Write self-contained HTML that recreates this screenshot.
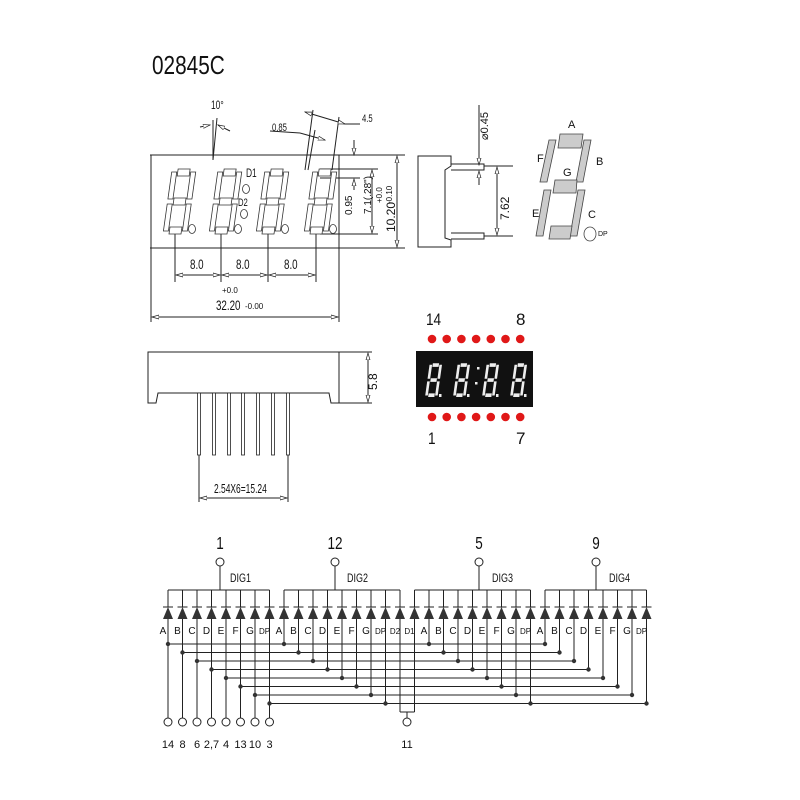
<!DOCTYPE html>
<html><head><meta charset="utf-8"><style>
html,body{margin:0;padding:0;background:#fff;width:800px;height:800px;overflow:hidden}
svg{display:block}
text{font-family:"Liberation Sans",sans-serif;fill:#111}
</style></head><body>
<svg id="s" width="800" height="800" viewBox="0 0 800 800" xmlns="http://www.w3.org/2000/svg">
<defs>
<marker id="ar" markerWidth="8" markerHeight="6" refX="7" refY="3" orient="auto-start-reverse" markerUnits="userSpaceOnUse"><path d="M0,1 L7,3 L0,5 Z" fill="#fff" stroke="#222" stroke-width="0.7"/></marker>
</defs>
<text x="0" y="0" font-size="26" transform="translate(152,74) scale(0.8,1)">02845C</text>

<g stroke="#222" stroke-width="1" fill="none">
<!-- front view -->
<line x1="150" y1="155" x2="405" y2="155"/>
<line x1="150" y1="248" x2="405" y2="248"/>
<line x1="151" y1="155" x2="151" y2="322"/>
<line x1="339" y1="155" x2="339" y2="322"/>
<line x1="175" y1="234" x2="175" y2="282"/>
<line x1="221" y1="234" x2="221" y2="282"/>
<line x1="268" y1="234" x2="268" y2="282"/>
<line x1="316" y1="234" x2="316" y2="282"/>
<line x1="176" y1="275" x2="220" y2="275" marker-start="url(#ar)" marker-end="url(#ar)"/>
<line x1="222" y1="275" x2="267" y2="275" marker-start="url(#ar)" marker-end="url(#ar)"/>
<line x1="269" y1="275" x2="315" y2="275" marker-start="url(#ar)" marker-end="url(#ar)"/>
<line x1="152" y1="317" x2="338" y2="317" marker-start="url(#ar)" marker-end="url(#ar)"/>
<line x1="397" y1="156" x2="397" y2="247" marker-start="url(#ar)" marker-end="url(#ar)"/>
<line x1="372" y1="170" x2="372" y2="233" marker-start="url(#ar)" marker-end="url(#ar)"/>
<line x1="320" y1="169" x2="378" y2="169"/>
<line x1="320" y1="234" x2="378" y2="234"/>
<line x1="354" y1="140" x2="354" y2="155" marker-end="url(#ar)"/>
<line x1="354" y1="190" x2="354" y2="179" marker-end="url(#ar)"/>
<line x1="320" y1="178" x2="360" y2="178"/>
<!-- 10 deg -->
<line x1="213" y1="120" x2="213" y2="160"/>
<line x1="217" y1="118" x2="213" y2="160"/>
<line x1="200" y1="127" x2="210" y2="125" marker-end="url(#ar)"/>
<line x1="230" y1="131" x2="218" y2="125" marker-end="url(#ar)"/>
<!-- slanted lines -->
<line x1="313" y1="110" x2="305" y2="170"/>
<line x1="315" y1="130" x2="308" y2="170"/>
<line x1="339" y1="117" x2="332" y2="170"/>
<line x1="305" y1="112" x2="345" y2="124" marker-start="url(#ar)" marker-end="url(#ar)"/>
<line x1="345" y1="124" x2="360" y2="124"/>
<line x1="300" y1="133" x2="325" y2="140" marker-end="url(#ar)"/>
<line x1="270" y1="131" x2="300" y2="133"/>
<!-- side view -->
<path d="M418,156 L451,156 L451,166 L445,170 L445,238 L451,240 L451,247 L418,247 Z"/>
<path d="M451,164 L484,164 L484,170 L451,170" />
<path d="M451,233 L484,233 L484,239 L451,239" />
<line x1="484" y1="166" x2="513" y2="166"/>
<line x1="484" y1="236" x2="513" y2="236"/>
<line x1="497" y1="167" x2="497" y2="235" marker-start="url(#ar)" marker-end="url(#ar)"/>
<line x1="479" y1="105" x2="479" y2="165" marker-end="url(#ar)"/>
<line x1="479" y1="185" x2="479" y2="171" marker-end="url(#ar)"/>
<!-- bottom view -->
<path d="M148,352 L339,352 L339,403 L331,403 L329,393 L158,393 L156,403 L148,403 Z"/>
<line x1="339" y1="352" x2="372" y2="352"/>
<line x1="339" y1="403" x2="372" y2="403"/>
<line x1="368" y1="353" x2="368" y2="402" marker-start="url(#ar)" marker-end="url(#ar)"/>
<line x1="199" y1="455" x2="199" y2="502"/>
<line x1="288" y1="455" x2="288" y2="502"/>
<line x1="200" y1="498" x2="287" y2="498" marker-start="url(#ar)" marker-end="url(#ar)"/>
</g>
<g id="pins" fill="#fff" stroke="#222" stroke-width="0.8"></g>
<g id="digits" fill="#fff" stroke="#333" stroke-width="0.8"></g>

<!-- front view labels -->
<text x="190" y="269" font-size="14" transform="translate(190,269) scale(0.7,1) translate(-190,-269)">8.0</text>
<text x="236" y="269" font-size="14" transform="translate(236,269) scale(0.7,1) translate(-236,-269)">8.0</text>
<text x="284" y="269" font-size="14" transform="translate(284,269) scale(0.7,1) translate(-284,-269)">8.0</text>
<text x="222" y="293" font-size="8">+0.0</text>
<text x="216" y="310" font-size="14" transform="translate(216,310) scale(0.7,1) translate(-216,-310)">32.20</text>
<text x="245" y="309" font-size="8">-0.00</text>
<text x="211" y="109" font-size="12" transform="translate(211,109) scale(0.7,1) translate(-211,-109)">10°</text>
<text x="272" y="131" font-size="11" transform="translate(272,131) scale(0.7,1) translate(-272,-131)">0.85</text>
<text x="362" y="122" font-size="11" transform="translate(362,122) scale(0.7,1) translate(-362,-122)">4.5</text>
<text x="246" y="177" font-size="12" transform="translate(246,177) scale(0.7,1) translate(-246,-177)">D1</text>
<text x="238" y="206" font-size="11" transform="translate(238,206) scale(0.7,1) translate(-238,-206)">D2</text>
<text font-size="10" transform="translate(352,215) rotate(-90)">0.95</text>
<text font-size="10" transform="translate(371,214) rotate(-90)">7.1(.28")</text>
<text font-size="8" transform="translate(382,203) rotate(-90)">+0.0</text>
<text font-size="8" transform="translate(392,204) rotate(-90)">-0.10</text>
<text font-size="12" transform="translate(395,232) rotate(-90)">10.20</text>
<text font-size="11" transform="translate(488,140) rotate(-90)">⌀0.45</text>
<text font-size="12" transform="translate(509,220) rotate(-90)">7.62</text>
<text font-size="12" transform="translate(377,390) rotate(-90)">5.8</text>
<text x="214" y="493" font-size="13" transform="translate(214,493) scale(0.65,1) translate(-214,-493)">2.54X6=15.24</text>

<!-- segment diagram -->
<g fill="#ccc" stroke="#444" stroke-width="0.8">
<polygon points="560,134 583,134 581,148 558,148"/>
<polygon points="549,140 556,140 547,182 540,182"/>
<polygon points="584,140 591,140 583,182 576,182"/>
<polygon points="555,180 577,180 576,193 553,193"/>
<polygon points="544,190 551,190 543,236 536,236"/>
<polygon points="578,190 585,190 577,236 570,236"/>
<polygon points="551,226 572,226 570,239 549,239"/>
<ellipse cx="590" cy="234" rx="6" ry="7" fill="#fff"/>
</g>
<text x="568" y="128" font-size="11">A</text>
<text x="537" y="162" font-size="11">F</text>
<text x="596" y="165" font-size="11">B</text>
<text x="563" y="176" font-size="11">G</text>
<text x="532" y="217" font-size="11">E</text>
<text x="588" y="218" font-size="11">C</text>
<text x="598" y="236" font-size="7">DP</text>

<!-- red display -->
<rect x="416" y="351" width="117" height="56" fill="#111"/>
<g id="red" fill="#e01818"></g>
<g id="rdig" fill="#eee"></g>
<text x="426" y="325" font-size="17" transform="translate(426,325) scale(0.8,1) translate(-426,-325)">14</text>
<text x="516" y="325" font-size="17">8</text>
<text x="428" y="444" font-size="17" transform="translate(428,444) scale(0.8,1) translate(-428,-444)">1</text>
<text x="516" y="444" font-size="17">7</text>

<!-- schematic -->
<g id="sch" stroke="#222" stroke-width="1" fill="none"></g>
<g id="schf" fill="#333"></g>
<text x="220" y="549" font-size="18" text-anchor="middle" transform="translate(220,549) scale(0.75,1) translate(-220,-549)">1</text>
<text x="335" y="549" font-size="18" text-anchor="middle" transform="translate(335,549) scale(0.75,1) translate(-335,-549)">12</text>
<text x="479" y="549" font-size="18" text-anchor="middle" transform="translate(479,549) scale(0.75,1) translate(-479,-549)">5</text>
<text x="596" y="549" font-size="18" text-anchor="middle" transform="translate(596,549) scale(0.75,1) translate(-596,-549)">9</text>
<text x="230" y="582" font-size="12" transform="translate(230,582) scale(0.75,1) translate(-230,-582)">DIG1</text>
<text x="347" y="582" font-size="12" transform="translate(347,582) scale(0.75,1) translate(-347,-582)">DIG2</text>
<text x="492" y="582" font-size="12" transform="translate(492,582) scale(0.75,1) translate(-492,-582)">DIG3</text>
<text x="609" y="582" font-size="12" transform="translate(609,582) scale(0.75,1) translate(-609,-582)">DIG4</text>
<g font-size="10" text-anchor="middle" transform="translate(0,634) scale(1,1)">
<g transform="scale(1,1)">
<text x="163" y="0">A</text><text x="177.5" y="0">B</text><text x="192" y="0">C</text><text x="206.5" y="0">D</text><text x="221" y="0">E</text><text x="235.5" y="0">F</text><text x="250" y="0">G</text><text x="264.5" y="0" font-size="8">DP</text>
<text x="279" y="0">A</text><text x="293.5" y="0">B</text><text x="308" y="0">C</text><text x="322.5" y="0">D</text><text x="337" y="0">E</text><text x="351.5" y="0">F</text><text x="366" y="0">G</text><text x="380.5" y="0" font-size="8">DP</text><text x="395" y="0" font-size="8">D2</text>
<text x="409.5" y="0" font-size="8">D1</text><text x="424" y="0">A</text><text x="438.5" y="0">B</text><text x="453" y="0">C</text><text x="467.5" y="0">D</text><text x="482" y="0">E</text><text x="496.5" y="0">F</text><text x="511" y="0">G</text><text x="525.5" y="0" font-size="8">DP</text>
<text x="540" y="0">A</text><text x="554.5" y="0">B</text><text x="569" y="0">C</text><text x="583.5" y="0">D</text><text x="598" y="0">E</text><text x="612.5" y="0">F</text><text x="627" y="0">G</text><text x="641.5" y="0" font-size="8">DP</text>
</g></g>
<g font-size="11" text-anchor="middle">
<text x="168" y="748">14</text><text x="182.5" y="748">8</text><text x="197" y="748">6</text><text x="211.5" y="748">2,7</text><text x="226" y="748">4</text><text x="240.5" y="748">13</text><text x="255" y="748">10</text><text x="269.5" y="748">3</text><text x="407" y="748">11</text>
</g>
</svg>
<script>
var NS="http://www.w3.org/2000/svg";
function el(p,t,a){var e=document.createElementNS(NS,t);for(var k in a)e.setAttribute(k,a[k]);document.getElementById(p).appendChild(e);return e;}
[199,214,229,243,258,273,288].forEach(function(x){el("pins","rect",{x:x-1.5,y:393,width:3,height:62});});
function digit(p,x0,y0,s){
  var g=el(p,"g",{transform:"translate("+x0+","+y0+") scale("+s+") skewX(-8)"});
  var segs=[[6,-65,12,7],[0,-62,5,27],[19,-62,5,27],[6,-36,12,7],[0,-30,5,27],[19,-30,5,27],[6,-7,12,7]];
  segs.forEach(function(r){var e=document.createElementNS(NS,"rect");e.setAttribute("x",r[0]);e.setAttribute("y",r[1]);e.setAttribute("width",r[2]);e.setAttribute("height",r[3]);g.appendChild(e);});
}
[163,209,256,304].forEach(function(x){digit("digits",x,234,1);el("digits","ellipse",{cx:x+29,cy:229,rx:3.5,ry:4.5});});
el("digits","ellipse",{cx:246,cy:189,rx:3.5,ry:4.5});
el("digits","ellipse",{cx:244,cy:214,rx:3.5,ry:4.5});
for(var i=0;i<7;i++){var x=432+i*14.7;el("red","circle",{cx:x,cy:339,r:4.3});el("red","circle",{cx:x,cy:417,r:4.3});}
[425,453,482,510].forEach(function(x){digit("rdig",x,397,0.52);el("rdig","rect",{x:x+14,y:394,width:2.5,height:3});});
el("rdig","rect",{x:477,y:367,width:2.5,height:2.5});el("rdig","rect",{x:475,y:382,width:2.5,height:2.5});
var X=[];for(var i=0;i<34;i++)X.push(168+14.5*i);
function L(x1,y1,x2,y2){el("sch","line",{x1:x1,y1:y1,x2:x2,y2:y2});}
var groups=[[0,7,220],[8,16,335],[17,25,479],[26,33,596]];
groups.forEach(function(g){L(X[g[0]],590,X[g[1]],590);L(g[2],566,g[2],590);el("sch","circle",{cx:g[2],cy:562,r:4,fill:"#fff"});});
X.forEach(function(x){L(x,590,x,607);L(x-5,607,x+5,607);el("schf","polygon",{points:(x)+",607 "+(x-5)+",619 "+(x+5)+",619"});});
for(var s=0;s<8;s++){
  var y=644+s*8.5;
  var xs=[X[s],X[8+s],X[18+s],X[26+s]];
  L(xs[0],y,xs[3],y);
  L(xs[0],619,xs[0],718);el("sch","circle",{cx:xs[0],cy:722,r:4,fill:"#fff"});
  for(var k=1;k<4;k++)L(xs[k],619,xs[k],y);
  xs.forEach(function(x){el("schf","circle",{cx:x,cy:y,r:2.2});});
}
L(X[16],619,X[16],712);L(X[17],619,X[17],712);L(X[16],712,X[17],712);L(407,712,407,718);
el("sch","circle",{cx:407,cy:722,r:4,fill:"#fff"});
</script>
</body></html>
